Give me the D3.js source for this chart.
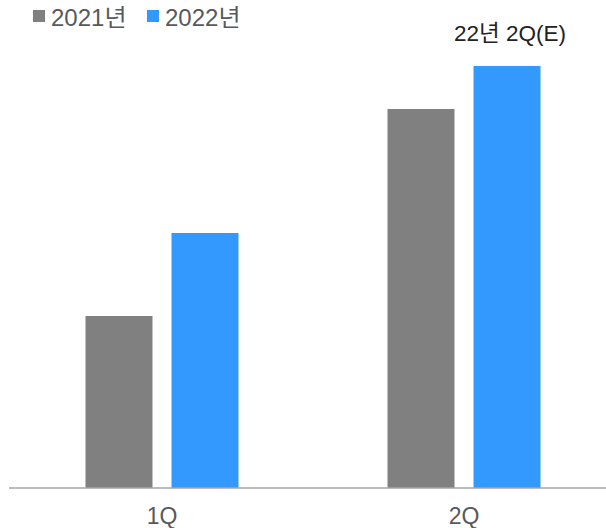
<!DOCTYPE html>
<html>
<head>
<meta charset="utf-8">
<script src="https://cdn.jsdelivr.net/npm/d3@7"></script>
<style>
  body { margin: 0; background: #fff; }
  text { font-family: "Liberation Sans", Arial, "Noto Sans CJK KR", sans-serif; }
</style>
</head>
<body>
<div id="chart"></div>
<script>
var quarters = ["1Q", "2Q"]
var seriesNames = ["2021년", "2022년"]
var values2021 = [172, 379]
var values2022 = [255, 422]
var annotationText = "22년 2Q(E)"

var width = 606
var height = 528
var baseline = 488
var colors = { "2021년": "#808080", "2022년": "#3399ff" }

var svg = d3.select("#chart")
    .append("svg")
    .attr("width", width)
    .attr("height", height)

var x = d3.scaleBand()
    .domain(quarters)
    .range([11, 615])

var xSub = d3.scaleBand()
    .domain(seriesNames)
    .range([-76.5, 76.5])
    .paddingInner(0.221)

var y = d3.scaleLinear()
    .domain([0, 450])
    .range([baseline, 38])

var rows = quarters.map((q, i) => ({ q: q, "2021년": values2021[i], "2022년": values2022[i] }))

var groups = svg.selectAll("g.quarter")
    .data(rows)
    .enter()
    .append("g")
    .attr("class", "quarter")
    .attr("transform", d => `translate(${x(d.q) + x.bandwidth() / 2},0)`)

groups.selectAll("rect")
    .data(d => seriesNames.map(s => ({ s: s, v: d[s] })))
    .enter()
    .append("rect")
    .attr("x", d => xSub(d.s))
    .attr("y", d => y(d.v))
    .attr("width", xSub.bandwidth())
    .attr("height", d => baseline - y(d.v))
    .style("fill", d => colors[d.s])

// axis
var axis = svg.append("g")
    .attr("transform", `translate(0,${baseline})`)
    .call(d3.axisBottom(x).tickSize(0).tickPadding(20))

axis.select(".domain").remove()
axis.selectAll("text")
    .style("font-size", "23px")
    .style("fill", "#595959")

svg.append("line")
    .attr("x1", 9)
    .attr("x2", width)
    .attr("y1", baseline)
    .attr("y2", baseline)
    .style("stroke", "#a6a6a6")
    .style("stroke-width", 1.5)

// annotation over last blue bar
svg.append("text")
    .attr("x", x("2Q") + x.bandwidth() / 2 + xSub("2022년") + xSub.bandwidth() / 2 + 3)
    .attr("y", 41)
    .attr("text-anchor", "middle")
    .style("font-size", "22.5px")
    .style("fill", "#222")
    .text(annotationText)

// legend
var legend = svg.append("g")
var legendX = [33, 147]
seriesNames.forEach((s, i) => {
    legend.append("rect")
        .attr("x", legendX[i])
        .attr("y", 10)
        .attr("width", 12)
        .attr("height", 12)
        .style("fill", colors[s])
    legend.append("text")
        .attr("x", legendX[i] + 18)
        .attr("y", 26)
        .style("font-size", "24px")
        .style("fill", "#595959")
        .text(s)
})
</script>
</body>
</html>
